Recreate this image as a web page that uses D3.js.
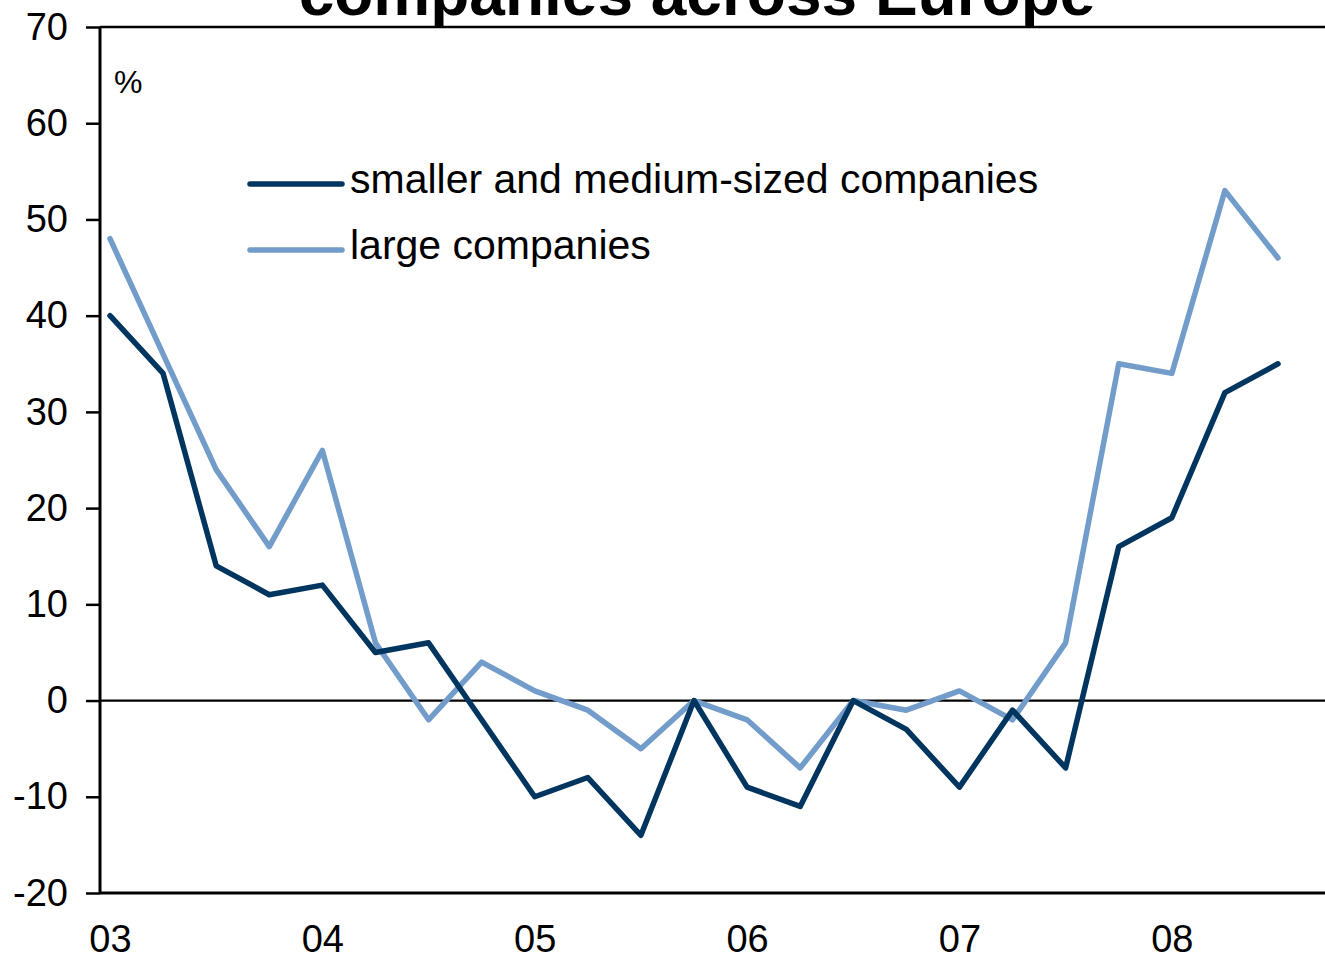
<!DOCTYPE html>
<html>
<head>
<meta charset="utf-8">
<script src="https://cdn.jsdelivr.net/npm/d3@7"></script>
<style>
  body { margin: 0; background: #fff; }
  svg { display: block; font-family: "Liberation Sans", Arial, sans-serif; }
</style>
</head>
<body>
<div id="chart"></div>
<script>
// quarterly, starting 2003 Q1
var yearLabels = ["03", "04", "05", "06", "07", "08"];
var smeValues = [40, 34, 14, 11, 12, 5, 6, -2, -10, -8, -14, 0, -9, -11, 0, -3, -9, -1, -7, 16, 19, 32, 35];
var largeValues = [48, 36, 24, 16, 26, 6, -2, 4, 1, -1, -5, 0, -2, -7, 0, -1, 1, -2, 6, 35, 34, 53, 46];
var seriesNames = ["smaller and medium-sized companies", "large companies"];
var yTicks = [-20, -10, 0, 10, 20, 30, 40, 50, 60, 70];

var width = 1325, height = 961;
var plotLeft = 100, plotRight = 1325, plotTop = 27, plotBottom = 893;

var svg = d3.select("#chart").append("svg")
  .attr("width", width)
  .attr("height", height);

var x = d3.scaleLinear().domain([0, smeValues.length - 1]).range([110, 1278]);
var y = d3.scaleLinear().domain([-20, 70]).range([plotBottom, plotTop]);

// title (only lower part visible)
svg.append("text")
  .attr("x", 697)
  .attr("y", 15)
  .attr("text-anchor", "middle")
  .style("font-size", "64px")
  .style("font-weight", "bold")
  .text("companies across Europe");

// frame lines
svg.append("line")
  .attr("x1", plotLeft).attr("x2", plotRight)
  .attr("y1", y(70)).attr("y2", y(70))
  .style("stroke", "#000").style("stroke-width", 2.5);

svg.append("line")
  .attr("x1", plotLeft).attr("x2", plotRight)
  .attr("y1", y(0)).attr("y2", y(0))
  .style("stroke", "#000").style("stroke-width", 2.2);

// y axis
var yAxis = svg.append("g")
  .attr("transform", "translate(" + plotLeft + ",0)")
  .call(d3.axisLeft(y).tickValues(yTicks).tickSize(14).tickPadding(18)
    .tickFormat(function(d) { return String(d); }));
yAxis.select(".domain").style("stroke-width", 3).attr("d", "M0," + plotTop + "V" + plotBottom);
yAxis.selectAll(".tick line").style("stroke-width", 2.5);
yAxis.selectAll(".tick text")
  .style("font-size", "38px")
  .style("fill", "#000")
  .style("font-family", "Liberation Sans, Arial, sans-serif");

// x axis
var xAxis = svg.append("g")
  .attr("transform", "translate(0," + plotBottom + ")")
  .call(d3.axisBottom(x)
    .tickValues(yearLabels.map(function(d, i) { return i * 4; }))
    .tickSize(0).tickPadding(32)
    .tickFormat(function(d) { return yearLabels[d / 4]; }));
xAxis.select(".domain").style("stroke-width", 3).attr("d", "M" + plotLeft + ",0H" + plotRight);
xAxis.selectAll(".tick text")
  .style("font-size", "38px")
  .style("fill", "#000")
  .style("font-family", "Liberation Sans, Arial, sans-serif");

// unit label
svg.append("text")
  .attr("x", 114)
  .attr("y", 93)
  .style("font-size", "32px")
  .text("%");

var colors = ["#00355f", "#729cc9"];
var line = d3.line()
  .x(function(d, i) { return x(i); })
  .y(function(d) { return y(d); });

[largeValues, smeValues].forEach(function(vals, k) {
  svg.append("path")
    .datum(vals)
    .attr("d", line)
    .style("fill", "none")
    .style("stroke", colors[1 - k])
    .style("stroke-width", 5.5)
    .style("stroke-linecap", "round")
    .style("stroke-linejoin", "round");
});

// legend
var legend = svg.selectAll(".legend")
  .data(seriesNames)
  .enter().append("g")
  .attr("class", "legend")
  .attr("transform", function(d, i) { return "translate(250," + (184 + i * 66) + ")"; });

legend.append("line")
  .attr("x1", 0).attr("x2", 92)
  .style("stroke", function(d, i) { return colors[i]; })
  .style("stroke-width", 5.5)
  .style("stroke-linecap", "round");

legend.append("text")
  .attr("x", 100)
  .attr("y", 9)
  .style("font-size", "41px")
  .text(function(d) { return d; });
</script>
</body>
</html>
